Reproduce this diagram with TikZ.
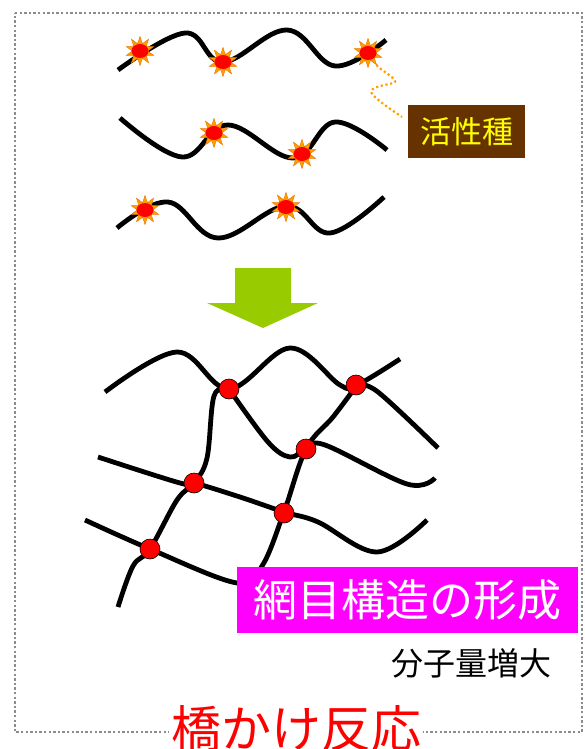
\documentclass[tikz,border=0pt]{standalone}
\usepackage{fontspec}
\newfontfamily\jp{Noto Sans CJK JP}
\usetikzlibrary{shapes.geometric}
\definecolor{sparkorange}{RGB}{255,160,0}
\definecolor{sparkedge}{RGB}{235,120,0}
\definecolor{labelbrown}{RGB}{102,51,0}
\definecolor{labelyellow}{RGB}{255,255,0}
\definecolor{arrowgreen}{RGB}{153,204,0}
\definecolor{framegray}{RGB}{140,140,140}
\definecolor{boxmagenta}{RGB}{255,0,255}
\definecolor{titlered}{RGB}{255,0,0}
\tikzset{
  chain/.style={line width=4.8pt, line cap=butt, line join=round},
  spark/.style={star, star points=10, star point ratio=1.9, minimum size=29pt,
    inner sep=0pt, fill=sparkorange, draw=sparkedge, line width=0.5pt},
  link/.style={circle, fill=red, draw=black, line width=0.6pt, minimum size=20pt, inner sep=0pt},
  frame/.style={draw=framegray, line width=2.4pt, dash pattern=on 2.4pt off 2.2pt},
}
\newcommand{\sparkat}[2]{%
  \node[spark] (#1) at (#2) {};
  \fill[red] (#2) ellipse (8.5pt and 7pt);}
\begin{document}
\begin{tikzpicture}[x=1pt,y=-1pt,font=\jp]
\useasboundingbox (0,0) rectangle (585,749);

% dotted frame
\draw[frame] (15,13) -- (582,13) -- (582,732) -- (15,732) -- cycle;

% three linear chains with active sites
\draw[chain] plot[smooth, tension=0.65] coordinates
  {(118,70) (185,33) (223,62) (287,30) (335,66) (386,40)};
\draw[chain] plot[smooth, tension=0.65] coordinates
  {(120,118) (182,157) (228,125) (293,158) (335,122) (387,150)};
\draw[chain] plot[smooth, tension=0.65] coordinates
  {(117,228) (168,202) (218,238) (286,206) (330,233) (384,197)};

\sparkat{s1}{140,51}
\sparkat{s2}{223,62}
\sparkat{s3}{368,53}
\sparkat{s4}{214,133}
\sparkat{s5}{302,154}
\sparkat{s6}{145,210}
\sparkat{s7}{286,207}

% label for the active species
\node[fill=labelbrown, text=labelyellow, font=\jp\fontsize{31}{31}\selectfont,
  minimum width=117pt, minimum height=53pt, inner sep=0pt] (act) at (466.5,131.5) {活性種};
\coordinate (lead) at (402,117);
\draw[sparkorange, line width=2.2pt, dash pattern=on 2.2pt off 2.6pt]
  (s3) .. controls (380,70) and (400,80) .. (394,83)
  .. controls (380,86) and (365,88) .. (374,96)
  .. controls (382,104) and (395,112) .. (lead);

% downward block arrow
\fill[arrowgreen] (235,268) -- (291,268) -- (291,303) -- (318,303) -- (263,328)
  -- (207,303) -- (235,303) -- cycle;

% crosslinked network
\draw[chain] plot[smooth, tension=0.6] coordinates
  {(105,392) (177,352) (229,389) (290,348) (340,385) (357,385) (400,359)};
\draw[chain] plot[smooth, tension=0.6] coordinates
  {(357,385) (378,392) (438,448)};
\draw[chain] plot[smooth, tension=0.6] coordinates
  {(229,389) (268,442) (290,457) (306,449) (325,445) (407,484) (435,478)};
\draw[chain] plot[smooth, tension=0.6] coordinates
  {(357,385) (333,417) (306,449) (284,512) (262,566) (237,583) (150,549) (85,520)};
\draw[chain] plot[smooth, tension=0.6] coordinates
  {(98,457) (180,483) (194,483) (240,497) (284,512) (318,522) (377,552) (427,520)};
\draw[chain] plot[smooth, tension=0.6] coordinates
  {(229,389) (214,396) (207,458) (194,483) (177,500) (150,549) (133,566) (118,607)};

\node[link] (c1) at (229,389) {};
\node[link] (c2) at (356,385) {};
\node[link] (c3) at (306,449) {};
\node[link] (c4) at (284,513) {};
\node[link] (c5) at (194,483) {};
\node[link] (c6) at (150,549) {};

% captions
\node[fill=boxmagenta, text=white, font=\jp\fontsize{44}{44}\selectfont,
  minimum width=341pt, minimum height=66pt, inner sep=0pt] (net) at (407.5,600) {網目構造の形成};
\node[font=\jp\fontsize{32}{32}\selectfont, inner sep=0pt] (mw) at (471,663) {分子量増大};
\node[fill=white, text=titlered, font=\jp\fontsize{50}{50}\selectfont, inner sep=2pt] (title) at (296,729) {橋かけ反応};
\end{tikzpicture}
\end{document}
